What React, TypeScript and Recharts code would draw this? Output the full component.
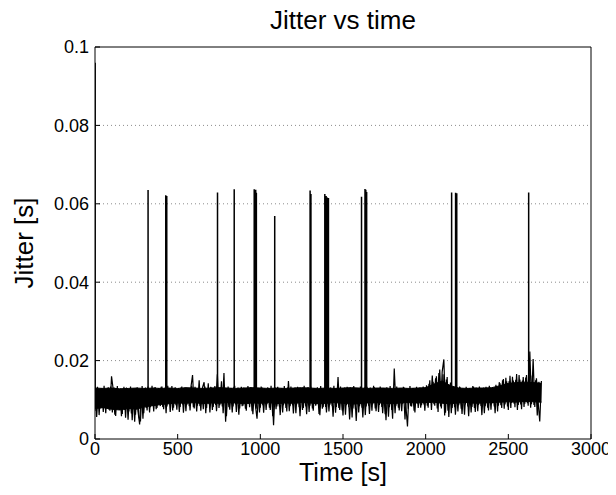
import { ComposedChart, Area, Line, XAxis, YAxis, CartesianGrid, Label } from "recharts";

// jitter samples every 10 s, from t = 0 to 2700 s
const JITTER_NOISE = [
  0.0131, 0.0056, 0.0124, 0.0078, 0.0129, 0.0069, 0.0126, 0.0083, 0.0132, 0.0072, 0.0160,
  0.0127, 0.0062, 0.0130, 0.0081, 0.0125, 0.0058, 0.0128, 0.0074, 0.0131, 0.0049,
  0.0126, 0.0065, 0.0129, 0.0044, 0.0124, 0.0071, 0.0037, 0.0127, 0.0052, 0.0130,
  0.0079, 0.0134, 0.0068, 0.0128, 0.0085, 0.0131, 0.0076, 0.0126, 0.0088, 0.0133,
  0.0082, 0.0129, 0.0066, 0.0136, 0.0091, 0.0127, 0.0073, 0.0130, 0.0086, 0.0128,
  0.0069, 0.0131, 0.0088, 0.0126, 0.0071, 0.0129, 0.0084, 0.0132, 0.0163, 0.0078,
  0.0127, 0.0085, 0.0150, 0.0072, 0.0131, 0.0145, 0.0066, 0.0128, 0.0089, 0.0133,
  0.0074, 0.0129, 0.0087, 0.0165, 0.0079, 0.0131, 0.0083, 0.0168, 0.0044, 0.0127,
  0.0081, 0.0130, 0.0068, 0.0133, 0.0088, 0.0126, 0.0062, 0.0129, 0.0084, 0.0131,
  0.0077, 0.0128, 0.0090, 0.0132, 0.0071, 0.0126, 0.0086, 0.0052, 0.0129, 0.0080,
  0.0131, 0.0067, 0.0127, 0.0089, 0.0130, 0.0074, 0.0128, 0.0035, 0.0131, 0.0083,
  0.0127, 0.0061, 0.0130, 0.0086, 0.0128, 0.0070, 0.0148, 0.0084, 0.0126, 0.0065,
  0.0131, 0.0088, 0.0127, 0.0058, 0.0130, 0.0079, 0.0128, 0.0063, 0.0132, 0.0085,
  0.0127, 0.0072, 0.0130, 0.0089, 0.0126, 0.0061, 0.0129, 0.0081, 0.0131, 0.0068,
  0.0128, 0.0087, 0.0126, 0.0057, 0.0130, 0.0082, 0.0158, 0.0074, 0.0127, 0.0060,
  0.0131, 0.0086, 0.0128, 0.0050, 0.0126, 0.0078, 0.0130, 0.0046, 0.0129, 0.0084,
  0.0127, 0.0055, 0.0131, 0.0083, 0.0128, 0.0064, 0.0126, 0.0089, 0.0132, 0.0071,
  0.0128, 0.0087, 0.0130, 0.0066, 0.0127, 0.0048, 0.0129, 0.0081, 0.0126, 0.0052,
  0.0180, 0.0085, 0.0129, 0.0073, 0.0127, 0.0090, 0.0131, 0.0086, 0.0032, 0.0128,
  0.0084, 0.0130, 0.0072, 0.0127, 0.0091, 0.0129, 0.0080, 0.0126, 0.0088, 0.0132,
  0.0085, 0.0141, 0.0092, 0.0162, 0.0089, 0.0155, 0.0078, 0.0168, 0.0083, 0.0172,
  0.0203, 0.0067, 0.0158, 0.0056, 0.0144, 0.0079, 0.0130, 0.0062, 0.0128, 0.0086,
  0.0131, 0.0064, 0.0127, 0.0088, 0.0130, 0.0058, 0.0128, 0.0082, 0.0133, 0.0069,
  0.0127, 0.0087, 0.0129, 0.0061, 0.0131, 0.0084, 0.0126, 0.0073, 0.0130, 0.0090,
  0.0128, 0.0066, 0.0134, 0.0085, 0.0142, 0.0079, 0.0153, 0.0088, 0.0147, 0.0074,
  0.0161, 0.0092, 0.0149, 0.0081, 0.0166, 0.0087, 0.0152, 0.0076, 0.0158, 0.0090,
  0.0163, 0.0085, 0.0223, 0.0089, 0.0204, 0.0082, 0.0155, 0.0094, 0.0045, 0.0148,
];
const NOISE_STEP = 10;

// in-between samples, t = 5, 15, ..., 2695 s
const JITTER_NOISE_MID = [
  0.0072, 0.0133, 0.0061, 0.0129, 0.0080, 0.0136, 0.0066, 0.0130, 0.0075, 0.0134,
  0.0068, 0.0131, 0.0059, 0.0135, 0.0077, 0.0129, 0.0064, 0.0133, 0.0054, 0.0130,
  0.0070, 0.0134, 0.0048, 0.0128, 0.0062, 0.0132, 0.0057, 0.0045, 0.0135, 0.0066,
  0.0131, 0.0073, 0.0129, 0.0081, 0.0136, 0.0070, 0.0132, 0.0079, 0.0130, 0.0084,
  0.0134, 0.0076, 0.0131, 0.0083, 0.0129, 0.0069, 0.0135, 0.0080, 0.0132, 0.0075,
  0.0130, 0.0082, 0.0134, 0.0067, 0.0131, 0.0087, 0.0129, 0.0073, 0.0136, 0.0081,
  0.0133, 0.0070, 0.0130, 0.0084, 0.0128, 0.0076, 0.0134, 0.0079, 0.0142, 0.0068,
  0.0131, 0.0082, 0.0135, 0.0071, 0.0130, 0.0086, 0.0147, 0.0066, 0.0129, 0.0058,
  0.0134, 0.0075, 0.0130, 0.0083, 0.0136, 0.0069, 0.0131, 0.0078, 0.0133, 0.0085,
  0.0129, 0.0072, 0.0135, 0.0081, 0.0131, 0.0063, 0.0133, 0.0077, 0.0130, 0.0068,
  0.0134, 0.0086, 0.0129, 0.0074, 0.0132, 0.0080, 0.0136, 0.0058, 0.0130, 0.0076,
  0.0133, 0.0083, 0.0129, 0.0068, 0.0135, 0.0079, 0.0131, 0.0071, 0.0134, 0.0086,
  0.0130, 0.0066, 0.0133, 0.0081, 0.0129, 0.0074, 0.0136, 0.0083, 0.0131, 0.0069,
  0.0134, 0.0078, 0.0130, 0.0085, 0.0132, 0.0064, 0.0135, 0.0077, 0.0129, 0.0082,
  0.0133, 0.0070, 0.0131, 0.0084, 0.0136, 0.0067, 0.0130, 0.0079, 0.0134, 0.0073,
  0.0129, 0.0062, 0.0133, 0.0081, 0.0131, 0.0055, 0.0135, 0.0076, 0.0130, 0.0068,
  0.0134, 0.0080, 0.0129, 0.0061, 0.0133, 0.0085, 0.0131, 0.0072, 0.0136, 0.0078,
  0.0130, 0.0069, 0.0134, 0.0082, 0.0129, 0.0063, 0.0132, 0.0057, 0.0135, 0.0074,
  0.0131, 0.0066, 0.0134, 0.0080, 0.0130, 0.0071, 0.0133, 0.0050, 0.0129, 0.0077,
  0.0135, 0.0083, 0.0130, 0.0068, 0.0133, 0.0079, 0.0131, 0.0086, 0.0134, 0.0072,
  0.0137, 0.0080, 0.0150, 0.0074, 0.0146, 0.0085, 0.0160, 0.0069, 0.0177, 0.0078,
  0.0165, 0.0060, 0.0152, 0.0072, 0.0138, 0.0066, 0.0133, 0.0081, 0.0130, 0.0070,
  0.0134, 0.0077, 0.0129, 0.0062, 0.0133, 0.0083, 0.0130, 0.0068, 0.0135, 0.0079,
  0.0131, 0.0071, 0.0134, 0.0084, 0.0130, 0.0066, 0.0133, 0.0080, 0.0136, 0.0075,
  0.0132, 0.0083, 0.0138, 0.0070, 0.0145, 0.0086, 0.0150, 0.0077, 0.0156, 0.0083,
  0.0148, 0.0079, 0.0159, 0.0090, 0.0151, 0.0074, 0.0163, 0.0088, 0.0149, 0.0082,
  0.0157, 0.0091, 0.0170, 0.0080, 0.0162, 0.0087, 0.0150, 0.0060, 0.0146, 0.0092,
];
const NOISE_MID_START = 5;

// dense band of the trace (lower / upper edge), every 50 s
const BAND_LOW = [
  0.0078, 0.0080, 0.0076, 0.0074, 0.0078, 0.0076, 0.0082, 0.0085, 0.0088,
  0.0090, 0.0092, 0.0091, 0.0093, 0.0090, 0.0092, 0.0091, 0.0093,
  0.0092, 0.0090, 0.0092, 0.0091, 0.0093, 0.0090, 0.0092, 0.0091,
  0.0093, 0.0092, 0.0090, 0.0091, 0.0093, 0.0091, 0.0089, 0.0090,
  0.0092, 0.0093, 0.0091, 0.0090, 0.0092, 0.0093, 0.0092, 0.0093,
  0.0094, 0.0091, 0.0090, 0.0092, 0.0093, 0.0091, 0.0092,
  0.0093, 0.0094, 0.0095, 0.0094, 0.0096, 0.0095, 0.0094,
];
const BAND_HIGH = [
  0.0130, 0.0129, 0.0130, 0.0128, 0.0129, 0.0130, 0.0129, 0.0130, 0.0129,
  0.0130, 0.0129, 0.0131, 0.0130, 0.0129, 0.0130, 0.0131, 0.0130,
  0.0129, 0.0130, 0.0131, 0.0130, 0.0129, 0.0130, 0.0129, 0.0130,
  0.0131, 0.0130, 0.0129, 0.0130, 0.0129, 0.0130, 0.0131, 0.0130,
  0.0129, 0.0130, 0.0130, 0.0129, 0.0130, 0.0129, 0.0130, 0.0131,
  0.0140, 0.0148, 0.0136, 0.0130, 0.0129, 0.0130, 0.0130,
  0.0131, 0.0136, 0.0142, 0.0144, 0.0145, 0.0144, 0.0142,
];
const BAND_STEP = 50;

// isolated jitter spikes
const SPIKE_TIMES = [1, 321, 428, 434, 741, 842, 963, 972, 976, 1087, 1301, 1306, 1390, 1398, 1405, 1412, 1612, 1633, 1638, 1643, 2157, 2181, 2188, 2623];
const SPIKE_PEAKS = [0.096, 0.0635, 0.0622, 0.062, 0.0629, 0.0637, 0.0637, 0.0636, 0.0628, 0.0569, 0.0634, 0.0625, 0.0625, 0.062, 0.0616, 0.0615, 0.0618, 0.0638, 0.0636, 0.063, 0.0629, 0.0628, 0.0627, 0.0629];
const SPIKE_BASE = 0.0115;

const X_TICKS = [0, 500, 1000, 1500, 2000, 2500, 3000];
const Y_TICKS = [0, 0.02, 0.04, 0.06, 0.08, 0.1];

const FONT = "'Liberation Sans', Arial, Helvetica, sans-serif";
const GRID_COLOR = "#8c8c8c";

const noiseData = JITTER_NOISE.map((v, i) => ({ t: i * NOISE_STEP, v }));
const noiseMidData = JITTER_NOISE_MID.map((v, i) => ({ t: NOISE_MID_START + i * NOISE_STEP, v }));
const bandData = BAND_LOW.map((lo, i) => ({ t: i * BAND_STEP, range: [lo, BAND_HIGH[i]] }));
const spikeData = SPIKE_TIMES.flatMap((t, i) => [
  { t, v: SPIKE_BASE },
  { t, v: SPIKE_PEAKS[i] },
  { t, v: SPIKE_BASE },
]);

const tickStyle = { fontSize: 18, fill: "#000", fontFamily: FONT };

export default function App() {
  // pull the chart over the body margin so the svg covers the whole page
  return (
    <div style={{ width: 616, height: 495, margin: "-8px 0 0 -8px", fontFamily: FONT }}>
      <ComposedChart width={616} height={495} margin={{ top: 46, right: 24, left: 0, bottom: 0 }}>
        <CartesianGrid
          vertical={false}
          stroke={GRID_COLOR}
          strokeDasharray="1 3"
          yAxisId="left"
          horizontalValues={[0.02, 0.04, 0.06, 0.08]}
        />
        <XAxis
          xAxisId="bottom"
          type="number"
          dataKey="t"
          domain={[0, 3000]}
          ticks={X_TICKS}
          allowDataOverflow
          height={56}
          tickSize={-5}
          tickMargin={8}
          tick={tickStyle}
          stroke="#000"
        >
          <Label
            content={(props: any) => {
              const vb = props.viewBox;
              return (
                <text x={vb.x + vb.width / 2} y={vb.y + 42} textAnchor="middle" fontSize={25} fontFamily={FONT} fill="#000">
                  Time [s]
                </text>
              );
            }}
          />
        </XAxis>
        <XAxis
          xAxisId="top"
          orientation="top"
          type="number"
          dataKey="t"
          domain={[0, 3000]}
          ticks={X_TICKS}
          allowDataOverflow
          height={1}
          tickSize={-5}
          tick={false}
          stroke="#000"
        >
          <Label
            content={(props: any) => {
              const vb = props.viewBox;
              return (
                <text x={vb.x + vb.width / 2} y={29} textAnchor="middle" fontSize={26} fontFamily={FONT} fill="#000">
                  Jitter vs time
                </text>
              );
            }}
          />
        </XAxis>
        <YAxis
          yAxisId="left"
          type="number"
          domain={[0, 0.1]}
          ticks={Y_TICKS}
          allowDataOverflow
          width={95}
          tickSize={-5}
          tickMargin={11}
          tick={tickStyle}
          stroke="#000"
        >
          <Label
            content={(props: any) => {
              const vb = props.viewBox;
              const cx = vb.x + 33;
              const cy = vb.y + vb.height / 2;
              return (
                <text x={cx} y={cy} transform={`rotate(-90 ${cx} ${cy})`} textAnchor="middle" fontSize={26} fontFamily={FONT} fill="#000">
                  Jitter [s]
                </text>
              );
            }}
          />
        </YAxis>
        <YAxis
          yAxisId="right"
          orientation="right"
          type="number"
          domain={[0, 0.1]}
          ticks={Y_TICKS}
          allowDataOverflow
          width={1}
          tickSize={-5}
          tick={false}
          stroke="#000"
        />
        <Area
          data={bandData}
          xAxisId="bottom"
          yAxisId="left"
          dataKey="range"
          type="linear"
          stroke="#000"
          strokeWidth={1}
          fill="#000"
          fillOpacity={1}
          dot={false}
          activeDot={false}
          isAnimationActive={false}
        />
        <Line
          data={noiseData}
          xAxisId="bottom"
          yAxisId="left"
          dataKey="v"
          type="linear"
          stroke="#000"
          strokeWidth={1.2}
          dot={false}
          activeDot={false}
          isAnimationActive={false}
        />
        <Line
          data={noiseMidData}
          xAxisId="bottom"
          yAxisId="left"
          dataKey="v"
          type="linear"
          stroke="#000"
          strokeWidth={1.2}
          dot={false}
          activeDot={false}
          isAnimationActive={false}
        />
        <Line
          data={spikeData}
          xAxisId="bottom"
          yAxisId="left"
          dataKey="v"
          type="linear"
          stroke="#000"
          strokeWidth={1.5}
          dot={false}
          activeDot={false}
          isAnimationActive={false}
        />
      </ComposedChart>
    </div>
  );
}
